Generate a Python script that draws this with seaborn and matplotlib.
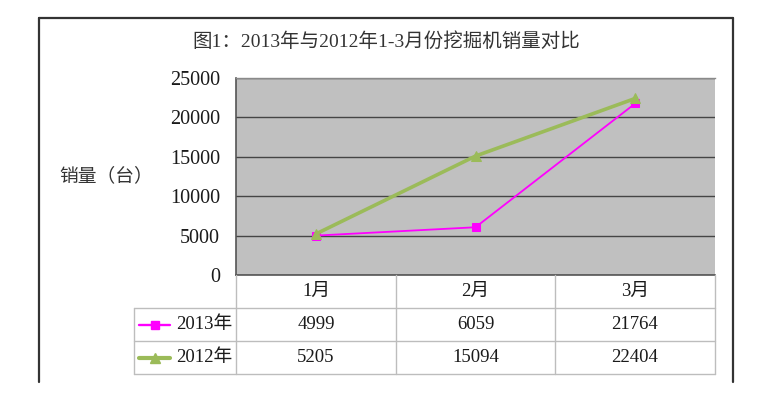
import numpy as np
import pandas as pd
import seaborn as sns
import matplotlib.pyplot as plt
from matplotlib.lines import Line2D

# data
months = ['1月', '2月', '3月']
years = ['2013年', '2012年']
sales_2013 = [4999, 6059, 21764]
sales_2012 = [5205, 15094, 22404]
yticks = [0, 5000, 10000, 15000, 20000, 25000]
title = '图1：2013年与2012年1-3月份挖掘机销量对比'
ylabel = '销量（台）'

df = pd.DataFrame({'月份': months * 2,
                   '销量': sales_2013 + sales_2012,
                   '年份': [years[0]] * 3 + [years[1]] * 3})

sns.set_theme(style='white')
plt.rcParams['font.family'] = ['Liberation Serif', 'Noto Sans CJK SC', 'DejaVu Sans']

W, H = 759, 398
fig = plt.figure(figsize=(W / 100, H / 100), dpi=100)


def box(x0, y0, x1, y1):
    return [x0 / W, 1 - y1 / H, (x1 - x0) / W, (y1 - y0) / H]


colors = {'2013年': '#ff00ff', '2012年': '#9bbb59'}
markers = {'2013年': 's', '2012年': '^'}
widths = {'2013年': 1.3, '2012年': 2.6}
msizes = {'2013年': 5.5, '2012年': 7.5}
txt = '#1a1a1a'

# plot area
ax = fig.add_axes(box(236, 78, 715, 275))
ax.set_facecolor('#c0c0c0')
for yr in ['2013年', '2012年']:
    sub = df[df['年份'] == yr]
    sns.lineplot(data=sub, x='月份', y='销量', color=colors[yr], marker=markers[yr],
                 markersize=msizes[yr], markeredgecolor=colors[yr], linewidth=widths[yr],
                 ax=ax, zorder=3)
ax.set_xlim(-0.5, 2.5)
ax.set_ylim(0, 25000)
ax.set_yticks(yticks)
ax.set_yticklabels([str(v) for v in yticks], fontsize=14.5, color=txt)
ax.tick_params(axis='y', length=0, pad=11.5)
ax.set_xticks([])
ax.set_xlabel('')
ax.set_ylabel('')
ax.yaxis.grid(True, color='#454545', linewidth=1)
ax.set_axisbelow(True)
for s in ['left', 'bottom']:
    ax.spines[s].set_color('#555555')
    ax.spines[s].set_linewidth(1.2)
ax.spines['top'].set_color('#8a8a8a')
ax.spines['top'].set_linewidth(1)
ax.spines['right'].set_visible(False)

# data table below
tab = fig.add_axes(box(134, 275, 715, 374))
tab.set_xlim(0, 581)
tab.set_ylim(3, 0)
tab.axis('off')
edges = [0, 102, 262, 421, 581]
gcol = '#bdbdbd'
for y in [1, 2, 3]:
    tab.plot([0, 581], [y, y], color=gcol, lw=1, clip_on=False)
for x in edges:
    tab.plot([x, x], [1 if x == 0 else 0, 3], color=gcol, lw=1, clip_on=False)

for j, m in enumerate(months):
    cx = (edges[j + 1] + edges[j + 2]) / 2
    tab.text(cx, 0.5, m, ha='center', va='center', fontsize=13.5, color=txt)

rows = [sales_2013, sales_2012]
for i, (yr, vals) in enumerate(zip(years, rows)):
    cy = i + 1.5
    tab.text(edges[1] - 4, cy, yr, ha='right', va='center', fontsize=13.5, color=txt)
    tab.add_line(Line2D([5, 36], [cy, cy], color=colors[yr], lw=widths[yr] + 0.4))
    tab.add_line(Line2D([20.5], [cy], color=colors[yr], marker=markers[yr],
                        markersize=msizes[yr], markeredgecolor=colors[yr], lw=0))
    for j, v in enumerate(vals):
        cx = (edges[j + 1] + edges[j + 2]) / 2
        tab.text(cx, cy, str(v), ha='center', va='center', fontsize=13.5, color=txt)

# titles
fig.text(386 / W, 1 - 42 / H, title, ha='center', va='center', fontsize=14, color='#333333')
fig.text(106 / W, 1 - 176 / H, ylabel, ha='center', va='center', fontsize=13.5, color='#333333')

# outer frame (open at the bottom)
fx0, fy0, fx1, fy1 = 39, 18, 733, 382
for xs, ys in [([fx0, fx0], [fy0, fy1]), ([fx1, fx1], [fy0, fy1]), ([fx0, fx1], [fy0, fy0])]:
    fig.add_artist(Line2D([x / W for x in xs], [1 - y / H for y in ys],
                          transform=fig.transFigure, color='#333333', lw=1.6))

fig.savefig('out.png', dpi=100)
